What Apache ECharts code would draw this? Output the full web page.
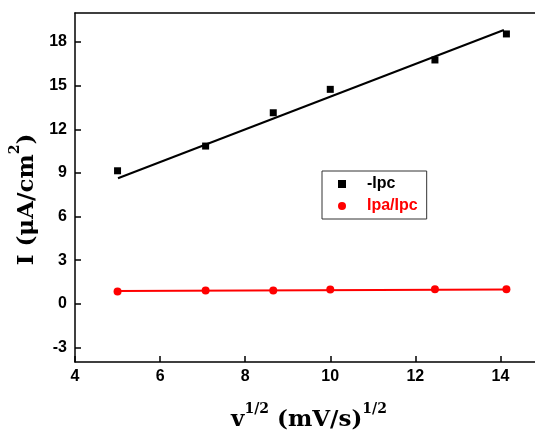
<!DOCTYPE html>
<html>
<head>
<meta charset="utf-8">
<script src="https://cdn.jsdelivr.net/npm/echarts@6/dist/echarts.min.js"></script>
<style>html,body{margin:0;padding:0;background:#fff;}#c{width:535px;height:430px;}</style>
</head>
<body>
<div id="c"></div>
<script>
// data
const sqrtV = [5.0, 7.07, 8.66, 10.0, 12.46, 14.14];
const negIpc = [9.15, 10.85, 13.14, 14.75, 16.77, 18.56];
const ipaIpc = [0.85, 0.92, 0.92, 0.98, 1.0, 1.0];
const fitIpcX = [5.01, 14.08];
const fitIpcY = [8.64, 18.83];
const fitRatioX = [5.0, 14.14];
const fitRatioY = [0.89, 0.99];
const xTicks = [4, 6, 8, 10, 12, 14];
const yTicks = [-3, 0, 3, 6, 9, 12, 15, 18];

const zip = (a, b) => a.map((v, i) => [v, b[i]]);
const tickFont = { fontFamily: 'Liberation Sans', fontWeight: 'bold', fontSize: 16, color: '#000' };
const nameRich = {
  a: { fontFamily: 'DejaVu Serif', fontWeight: 'bold', fontSize: 23, color: '#000', lineHeight: 30, verticalAlign: 'bottom' },
  s: { fontFamily: 'DejaVu Serif', fontWeight: 'bold', fontSize: 14, color: '#000', lineHeight: 30, verticalAlign: 'top' }
};

const chart = echarts.init(document.getElementById('c'), null, { renderer: 'canvas' });
chart.setOption({
  animation: false,
  backgroundColor: '#fff',
  grid: { left: 75, top: 13, right: -8, bottom: 68, containLabel: false, outerBoundsMode: 'none' },
  legend: {
    orient: 'vertical',
    left: 322, top: 171,
    padding: [5, 9, 5, 16],
    itemWidth: 8, itemHeight: 8, itemGap: 6,
    borderColor: '#333', borderWidth: 1,
    textStyle: { fontFamily: 'Liberation Sans', fontWeight: 'bold', fontSize: 16, lineHeight: 16, padding: [0, 0, 0, 16] },
    data: [
      { name: '-Ipc', textStyle: { color: '#000' } },
      { name: 'Ipa/Ipc', textStyle: { color: '#ff0000' } }
    ]
  },
  xAxis: [{
    type: 'value', min: 4, max: 15,
    name: '{a|v}{s|1/2}{a| (mV/s)}{s|1/2}', nameLocation: 'middle', nameGap: 40,
    nameTextStyle: { rich: nameRich },
    axisLine: { show: true, onZero: false, lineStyle: { color: '#000', width: 1.5 } },
    axisTick: { show: true, inside: true, length: 6, lineStyle: { color: '#000', width: 1.5 }, customValues: xTicks },
    axisLabel: { ...tickFont, margin: 7, customValues: xTicks },
    splitLine: { show: false }
  }, {
    type: 'value', min: 4, max: 15, position: 'top',
    axisLine: { show: true, onZero: false, lineStyle: { color: '#000', width: 1.5 } },
    axisTick: { show: false }, axisLabel: { show: false }, splitLine: { show: false }
  }],
  yAxis: {
    type: 'value', min: -4, max: 20,
    name: '{a|I (μA/cm}{s|2}{a|)}', nameLocation: 'middle', nameGap: 35,
    nameTextStyle: { rich: nameRich, padding: [0, 24, 0, 0] },
    axisLine: { show: true, onZero: false, lineStyle: { color: '#000', width: 1.5 } },
    axisTick: { show: true, inside: true, length: 6, lineStyle: { color: '#000', width: 1.5 }, customValues: yTicks },
    axisLabel: { ...tickFont, margin: 8, customValues: yTicks },
    splitLine: { show: false }
  },
  series: [
    { name: 'fitIpc', type: 'line', data: zip(fitIpcX, fitIpcY), showSymbol: false, symbol: 'none',
      lineStyle: { color: '#000', width: 2 }, z: 2, silent: true },
    { name: 'fitRatio', type: 'line', data: zip(fitRatioX, fitRatioY), showSymbol: false, symbol: 'none',
      lineStyle: { color: '#ff0000', width: 2 }, z: 2, silent: true },
    { name: '-Ipc', type: 'scatter', data: zip(sqrtV, negIpc), symbol: 'rect', symbolSize: 7,
      itemStyle: { color: '#000', opacity: 1 }, z: 3 },
    { name: 'Ipa/Ipc', type: 'scatter', data: zip(sqrtV, ipaIpc), symbol: 'circle', symbolSize: 8,
      itemStyle: { color: '#ff0000', opacity: 1 }, z: 3 }
  ]
});
</script>
</body>
</html>
